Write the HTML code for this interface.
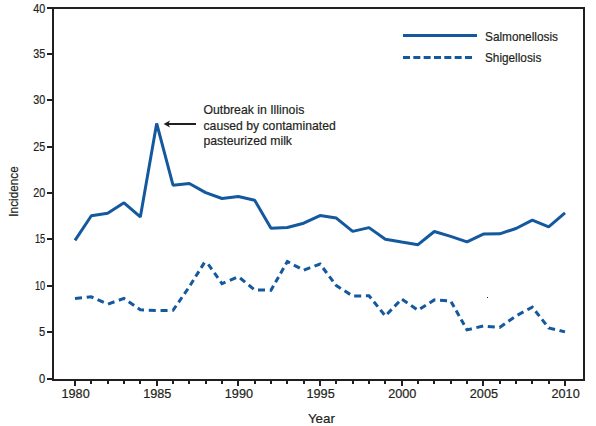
<!DOCTYPE html>
<html><head><meta charset="utf-8"><style>html,body{margin:0;padding:0;background:#fff;width:596px;height:426px;overflow:hidden}</style></head>
<body><svg width="596" height="426" viewBox="0 0 596 426" style="display:block"><rect width="596" height="426" fill="#fff"/><g fill="#231f20"><rect x="47" y="7" width="538" height="2"/><rect x="52" y="7" width="2" height="374"/><rect x="583" y="7" width="2" height="374"/><rect x="52" y="379" width="533" height="2"/><rect x="47" y="378" width="6" height="2"/><rect x="47" y="331" width="6" height="2"/><rect x="47" y="285" width="6" height="2"/><rect x="47" y="238" width="6" height="2"/><rect x="47" y="192" width="6" height="2"/><rect x="47" y="146" width="6" height="2"/><rect x="47" y="99" width="6" height="2"/><rect x="47" y="53" width="6" height="2"/><rect x="47" y="7" width="6" height="2"/><rect x="74" y="381" width="2" height="5"/><rect x="90" y="381" width="2" height="3"/><rect x="107" y="381" width="2" height="3"/><rect x="123" y="381" width="2" height="3"/><rect x="139" y="381" width="2" height="3"/><rect x="156" y="381" width="2" height="5"/><rect x="172" y="381" width="2" height="3"/><rect x="188" y="381" width="2" height="3"/><rect x="205" y="381" width="2" height="3"/><rect x="221" y="381" width="2" height="3"/><rect x="237" y="381" width="2" height="5"/><rect x="254" y="381" width="2" height="3"/><rect x="270" y="381" width="2" height="3"/><rect x="286" y="381" width="2" height="3"/><rect x="303" y="381" width="2" height="3"/><rect x="319" y="381" width="2" height="5"/><rect x="335" y="381" width="2" height="3"/><rect x="352" y="381" width="2" height="3"/><rect x="368" y="381" width="2" height="3"/><rect x="384" y="381" width="2" height="3"/><rect x="401" y="381" width="2" height="5"/><rect x="417" y="381" width="2" height="3"/><rect x="433" y="381" width="2" height="3"/><rect x="450" y="381" width="2" height="3"/><rect x="466" y="381" width="2" height="3"/><rect x="482" y="381" width="2" height="5"/><rect x="499" y="381" width="2" height="3"/><rect x="515" y="381" width="2" height="3"/><rect x="531" y="381" width="2" height="3"/><rect x="548" y="381" width="2" height="3"/><rect x="564" y="381" width="2" height="5"/></g><g font-family="Liberation Sans, sans-serif" font-size="12.5" fill="#231f20" stroke="#231f20" stroke-width="0.2"><text x="45.2" y="383.0" text-anchor="end" textLength="6.2" lengthAdjust="spacingAndGlyphs">0</text><text x="45.2" y="336.0" text-anchor="end" textLength="6.2" lengthAdjust="spacingAndGlyphs">5</text><text x="45.2" y="290.0" text-anchor="end" textLength="10.3" lengthAdjust="spacingAndGlyphs">10</text><text x="45.2" y="243.0" text-anchor="end" textLength="10.3" lengthAdjust="spacingAndGlyphs">15</text><text x="45.2" y="197.0" text-anchor="end" textLength="12.0" lengthAdjust="spacingAndGlyphs">20</text><text x="45.2" y="151.0" text-anchor="end" textLength="12.0" lengthAdjust="spacingAndGlyphs">25</text><text x="45.2" y="104.0" text-anchor="end" textLength="12.0" lengthAdjust="spacingAndGlyphs">30</text><text x="45.2" y="58.0" text-anchor="end" textLength="12.0" lengthAdjust="spacingAndGlyphs">35</text><text x="45.2" y="12.8" text-anchor="end" textLength="12.0" lengthAdjust="spacingAndGlyphs">40</text><text x="75.6" y="398" text-anchor="middle" textLength="28.2" lengthAdjust="spacingAndGlyphs">1980</text><text x="157.3" y="398" text-anchor="middle" textLength="28.2" lengthAdjust="spacingAndGlyphs">1985</text><text x="238.9" y="398" text-anchor="middle" textLength="28.2" lengthAdjust="spacingAndGlyphs">1990</text><text x="320.6" y="398" text-anchor="middle" textLength="28.2" lengthAdjust="spacingAndGlyphs">1995</text><text x="402.3" y="398" text-anchor="middle" textLength="28.2" lengthAdjust="spacingAndGlyphs">2000</text><text x="483.9" y="398" text-anchor="middle" textLength="28.2" lengthAdjust="spacingAndGlyphs">2005</text><text x="565.6" y="398" text-anchor="middle" textLength="28.2" lengthAdjust="spacingAndGlyphs">2010</text><text x="307.9" y="422.7" textLength="27" lengthAdjust="spacingAndGlyphs" font-size="13">Year</text><text transform="translate(18.3,216.7) rotate(-90)" x="0" y="0" font-size="13.3" textLength="50.5" lengthAdjust="spacingAndGlyphs">Incidence</text><text x="485" y="40.8" textLength="73" lengthAdjust="spacingAndGlyphs" font-size="13">Salmonellosis</text><text x="485" y="61.5" textLength="56.3" lengthAdjust="spacingAndGlyphs" font-size="13">Shigellosis</text><text x="203.4" y="114.2" textLength="100.9" lengthAdjust="spacingAndGlyphs" font-size="13">Outbreak in Illinois</text><text x="203.5" y="129.8" textLength="132.3" lengthAdjust="spacingAndGlyphs" font-size="13">caused by contaminated</text><text x="203.5" y="145.3" textLength="88.5" lengthAdjust="spacingAndGlyphs" font-size="13">pasteurized milk</text></g><rect x="168" y="123" width="28" height="2" fill="#231f20"/><path d="M163.6,124 L170,120.4 L168.4,124 L170,127.6 Z" fill="#231f20"/><line x1="403" y1="35.5" x2="477" y2="35.5" stroke="#14589e" stroke-width="3"/><line x1="403" y1="57.5" x2="473" y2="57.5" stroke="#14589e" stroke-width="3" stroke-dasharray="7 3.33"/><polyline points="75.00,240.34 91.33,215.76 107.67,213.16 124.00,202.78 140.33,216.97 156.67,123.47 173.00,185.15 189.33,183.48 205.67,192.67 222.00,198.51 238.33,196.47 254.67,200.18 271.00,228.37 287.33,227.45 303.67,223.18 320.00,215.57 336.33,218.08 352.67,231.34 369.00,227.63 385.33,239.23 401.67,242.10 418.00,244.70 434.33,231.53 450.67,236.35 467.00,241.92 483.33,234.12 499.67,233.85 516.00,228.47 532.33,220.12 548.67,226.89 565.00,212.98" fill="none" stroke="#14589e" stroke-width="3" stroke-linejoin="bevel"/><path d="M75.00,298.49 L81.99,297.78 M86.70,297.30 L91.33,296.82 L93.42,297.76 M97.60,299.63 L103.80,302.42 M107.99,304.04 L114.47,301.75 M118.84,300.22 L124.00,298.40 L125.11,299.17 M128.74,301.71 L134.14,305.49 M137.78,308.02 L140.33,309.81 L144.03,309.98 M148.77,310.19 L155.80,310.51 M160.54,310.51 L167.58,310.43 M172.32,310.37 L173.00,310.37 L176.18,305.76 M178.54,302.34 L182.06,297.25 M184.42,293.83 L187.94,288.74 M190.22,285.29 L193.48,280.07 M195.66,276.58 L198.92,271.36 M201.10,267.87 L204.36,262.65 M208.30,264.30 L211.87,269.37 M214.36,272.89 L217.93,277.96 M220.41,281.48 L222.00,283.75 L225.44,282.22 M229.86,280.26 L236.08,277.51 M240.10,277.97 L245.11,282.09 M248.66,285.01 L253.67,289.14 M258.00,290.00 L265.04,290.08 M269.73,290.13 L271.00,290.15 L273.49,285.79 M275.51,282.26 L278.55,276.95 M280.57,273.41 L283.60,268.10 M285.63,264.56 L287.33,261.58 L289.94,262.95 M293.90,265.05 L299.85,268.19 M303.83,270.14 L310.24,267.70 M314.51,266.08 L320.00,263.99 L320.54,264.70 M323.04,268.01 L326.80,272.99 M329.31,276.30 L333.06,281.28 M335.57,284.59 L336.33,285.60 L340.80,288.44 M344.53,290.82 L350.13,294.38 M354.17,295.97 L361.21,295.89 M365.90,295.84 L369.00,295.80 L371.21,298.53 M373.85,301.78 L377.80,306.64 M380.43,309.89 L384.38,314.76 M387.22,313.98 L391.64,309.41 M394.59,306.36 L399.02,301.79 M402.04,299.31 L407.47,303.04 M411.10,305.53 L416.54,309.27 M420.23,308.86 L425.83,305.29 M429.56,302.92 L434.33,299.88 L435.37,299.95 M440.05,300.24 L447.07,300.68 M451.13,301.72 L454.13,307.04 M456.13,310.59 L459.14,315.91 M461.14,319.46 L464.14,324.78 M466.14,328.33 L467.00,329.84 L471.85,328.71 M476.37,327.66 L483.15,326.08 M487.80,326.45 L494.80,327.08 M499.47,327.51 L499.67,327.52 L504.88,323.82 M508.45,321.29 L513.82,317.48 M517.54,315.10 L523.45,311.91 M527.39,309.78 L532.33,307.12 L532.97,307.93 M535.54,311.21 L539.41,316.12 M541.99,319.40 L545.85,324.31 M548.43,327.59 L548.67,327.89 L555.01,329.44 M559.51,330.54 L565.00,331.88" fill="none" stroke="#14589e" stroke-width="3" stroke-linejoin="miter"/><rect x="487" y="297" width="1" height="1" fill="#231f20"/></svg></body></html>
